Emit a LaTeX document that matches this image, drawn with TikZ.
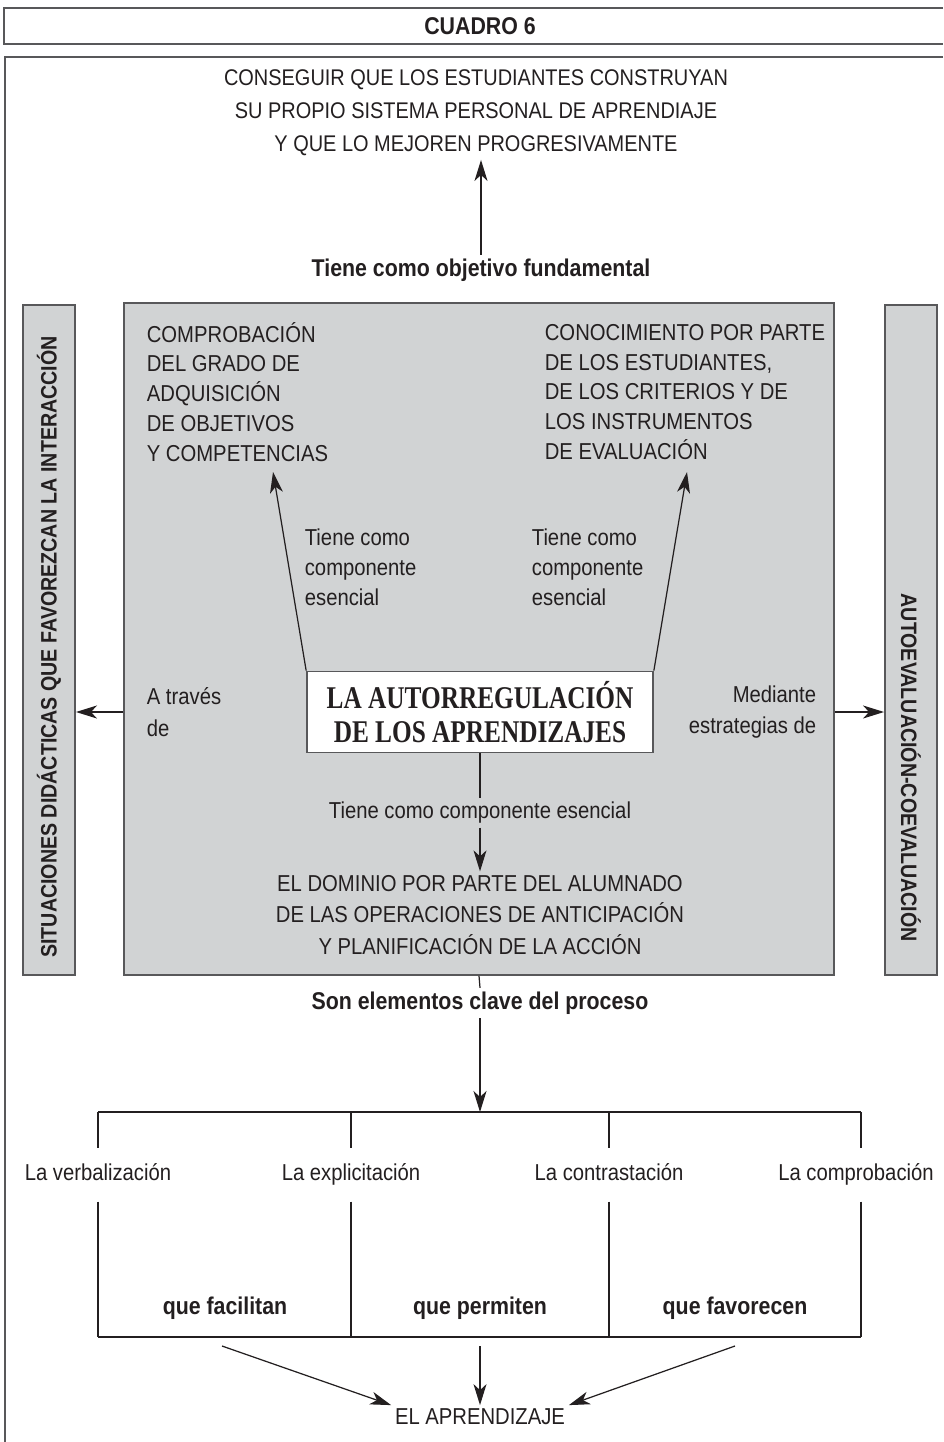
\documentclass[tikz,border=0pt]{standalone}
\usepackage{fontspec}
\setmainfont[FakeStretch=0.88]{Liberation Sans}
\newfontfamily\serifcaja[FakeStretch=0.8]{Liberation Serif}
\usetikzlibrary{arrows.meta,positioning}
\definecolor{grisfondo}{RGB}{209,211,212}
\definecolor{grisborde}{RGB}{88,88,90}
\definecolor{tinta}{RGB}{35,31,32}
\tikzset{
texto/.style={text=tinta,inner sep=2pt,font=\fontsize{13.1}{17}\selectfont},
negrita/.style={text=tinta,inner sep=2pt,font=\fontsize{13.8}{17}\selectfont\bfseries},
vertical/.style={text=tinta,inner sep=0pt,font=\fontsize{12.7}{15}\selectfont\bfseries},
etiqueta/.style={texto,text height=9pt,text depth=3pt,inner ysep=9pt},
flecha/.style={draw=tinta,line width=0.7pt,-{Stealth[length=0.42cm,width=0.26cm,inset=0.12cm]}},
linea/.style={draw=tinta,line width=0.7pt},
tabla/.style={draw=tinta,line width=0.6pt},
marco/.style={draw=grisborde,line width=1.1pt},
caja/.style={draw=grisborde,line width=1.1pt,fill=grisfondo,inner sep=0pt}
}
\begin{document}
\begin{tikzpicture}[x=0.02cm,y=-0.02cm]
\useasboundingbox[fill=white] (0,0) rectangle (943,1442);
\draw[marco] (943,8) -| (4,44) -- (943,44);
\node[negrita] (cuadro) at (480,26) {CUADRO 6};
\draw[marco] (943,57) -| (5,1442);

\node[texto,align=center,font=\fontsize{12.9}{18.8}\selectfont] (meta) at (476,113)
 {CONSEGUIR QUE LOS ESTUDIANTES CONSTRUYAN\\SU PROPIO SISTEMA PERSONAL DE APRENDIAJE\\Y QUE LO MEJOREN PROGRESIVAMENTE};
\node[negrita] (objetivo) at (481,270) {Tiene como objetivo fundamental};
\draw[flecha] (objetivo.north) -- (objetivo.north |- meta.south);

\node[caja,minimum width=14.2cm,minimum height=13.44cm] (panel) at (479,639) {};
\node[caja,minimum width=1.04cm,minimum height=13.4cm] (barIzq) at (49,640) {};
\node[caja,minimum width=1.04cm,minimum height=13.4cm] (barDer) at (911,640) {};
\node[vertical,rotate=90,anchor=west] (textoIzq) at (49,958) {SITUACIONES DIDÁCTICAS QUE FAVOREZCAN LA INTERACCIÓN};
\node[vertical,rotate=-90,anchor=east] (textoDer) at (911,942) {AUTOEVALUACIÓN-COEVALUACIÓN};

\node[texto,align=left,anchor=west] (comprob) at (143,392)
 {COMPROBACIÓN\\DEL GRADO DE\\ADQUISICIÓN\\DE OBJETIVOS\\Y COMPETENCIAS};
\node[texto,align=left,anchor=west] (conoc) at (541,392)
 {CONOCIMIENTO POR PARTE\\DE LOS ESTUDIANTES,\\DE LOS CRITERIOS Y DE\\LOS INSTRUMENTOS\\DE EVALUACIÓN};
\node[texto,align=left,anchor=west] (tieneIzq) at (301,567) {Tiene como\\componente\\esencial};
\node[texto,align=left,anchor=west] (tieneDer) at (528,567) {Tiene como\\componente\\esencial};

\node[draw=grisborde,line width=1pt,fill=white,minimum width=6.92cm,minimum height=1.62cm,
 align=center,text=tinta,font=\serifcaja\fontsize{18}{19.3}\selectfont\bfseries] (centro) at (480,712)
 {LA AUTORREGULACIÓN\\DE LOS APRENDIZAJES};
\node[texto,align=left,anchor=west,font=\fontsize{13.1}{18}\selectfont] (atraves) at (143,712) {A través\\de};
\node[texto,align=right,anchor=east,font=\fontsize{13.1}{18}\selectfont] (mediante) at (820,712) {Mediante\\estrategias de};

\coordinate (puntaIzq) at (273,472);
\coordinate (puntaDer) at (687,472);
\draw[flecha] (centro.north west) -- (puntaIzq);
\draw[flecha] (centro.north east) -- (puntaDer);
\draw[flecha] (panel.west |- centro.center) -- (barIzq.east |- centro.center);
\draw[flecha] (panel.east |- centro.center) -- (barDer.west |- centro.center);

\node[texto] (tieneAbajo) at (480,813) {Tiene como componente esencial};
\node[texto,align=center,font=\fontsize{13.1}{18}\selectfont] (dominio) at (480,915)
 {EL DOMINIO POR PARTE DEL ALUMNADO\\DE LAS OPERACIONES DE ANTICIPACIÓN\\Y PLANIFICACIÓN DE LA ACCIÓN};
\draw[linea] (centro.south) -- (tieneAbajo.north);
\draw[flecha] (tieneAbajo.south) -- (dominio.north);

\node[negrita] (clave) at (480,1003) {Son elementos clave del proceso};
\coordinate (esqA) at (98,1112);
\coordinate (esqB) at (351,1112);
\coordinate (esqC) at (609,1112);
\coordinate (esqD) at (861,1112);
\coordinate (pieA) at (98,1337);
\coordinate (pieB) at (351,1337);
\coordinate (pieC) at (609,1337);
\coordinate (pieD) at (861,1337);
\draw[linea] (panel.south) -- (clave.north);
\draw[flecha] (clave.south) -- (clave.south |- esqA);

\node[etiqueta] (verb) at (98,1175) {La verbalización};
\node[etiqueta] (expl) at (351,1175) {La explicitación};
\node[etiqueta] (contr) at (609,1175) {La contrastación};
\node[etiqueta] (compr) at (856,1175) {La comprobación};
\draw[tabla] (esqA) -- (esqD);
\draw[tabla] (pieA) -- (pieD);
\draw[tabla] (esqA) -- (verb.north) (verb.south) -- (pieA);
\draw[tabla] (esqB) -- (expl.north) (expl.south) -- (pieB);
\draw[tabla] (esqC) -- (contr.north) (contr.south) -- (pieC);
\draw[tabla] (esqD) -- (esqD |- compr.north) (esqD |- compr.south) -- (pieD);

\node[negrita] (facil) at (225,1308) {que facilitan};
\node[negrita] (perm) at (480,1308) {que permiten};
\node[negrita] (favor) at (735,1308) {que favorecen};

\node[texto,inner sep=2pt] (aprend) at (480,1417) {EL APRENDIZAJE};
\coordinate (salA) at (222,1346);
\coordinate (salB) at (480,1346);
\coordinate (salC) at (735,1346);
\draw[flecha] (salA) -- (aprend.north west);
\draw[flecha] (salB) -- (aprend.north);
\draw[flecha] (salC) -- (aprend.north east);
\end{tikzpicture}
\end{document}
